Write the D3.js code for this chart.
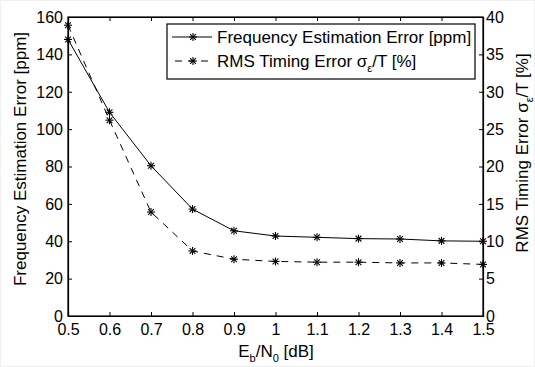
<!DOCTYPE html>
<html>
<head>
<meta charset="utf-8">
<script src="https://cdn.jsdelivr.net/npm/d3@7"></script>
<style>
  body { margin: 0; background: #fff; }
  text { font-family: "Liberation Sans", Arial, sans-serif; fill: #000; }
</style>
</head>
<body>
<svg id="chart" width="535" height="367"></svg>
<script>
// data
const ebn0 = [0.5, 0.6, 0.7, 0.8, 0.9, 1.0, 1.1, 1.2, 1.3, 1.4, 1.5];
const freqErr = [148, 109, 80.4, 57.2, 45.6, 42.8, 42.1, 41.4, 41.2, 40.2, 40.0];
const rmsErr = [38.9, 26.2, 13.9, 8.7, 7.6, 7.3, 7.2, 7.2, 7.1, 7.1, 6.9];
const xTicks = [0.5, 0.6, 0.7, 0.8, 0.9, 1, 1.1, 1.2, 1.3, 1.4, 1.5];
const yLeftTicks = [0, 20, 40, 60, 80, 100, 120, 140, 160];
const yRightTicks = [0, 5, 10, 15, 20, 25, 30, 35, 40];

const svg = d3.select("#chart");
const margin = {top: 17, right: 52, bottom: 51, left: 68};
const width = 535, height = 367;

svg.append("rect")
    .attr("x", 0.5).attr("y", 0.5)
    .attr("width", width - 1).attr("height", height - 1)
    .attr("fill", "#fff").attr("stroke", "#f0f0f0");

const x = d3.scaleLinear().domain([0.5, 1.5]).range([margin.left, width - margin.right]);
const yL = d3.scaleLinear().domain([0, 160]).range([height - margin.bottom, margin.top]);
const yR = d3.scaleLinear().domain([0, 40]).range([height - margin.bottom, margin.top]);

const tickFont = "16px";
const labelFont = "17px";

// plot frame
svg.append("rect")
    .attr("x", x(0.5)).attr("y", yL(160))
    .attr("width", x(1.5) - x(0.5)).attr("height", yL(0) - yL(160))
    .attr("fill", "none").attr("stroke", "#000").attr("stroke-width", 1.2);

// axes (inward ticks, matlab style)
const gx = svg.append("g")
    .attr("transform", `translate(0,${yL(0)})`)
    .call(d3.axisBottom(x).tickValues(xTicks).tickFormat(d3.format("")).tickSize(-4).tickPadding(9));
const gxTop = svg.append("g")
    .attr("transform", `translate(0,${yL(160)})`)
    .call(d3.axisTop(x).tickValues(xTicks).tickSize(-4).tickFormat(""));
const gyL = svg.append("g")
    .attr("transform", `translate(${x(0.5)},0)`)
    .call(d3.axisLeft(yL).tickValues(yLeftTicks).tickSize(-4).tickPadding(5));
const gyR = svg.append("g")
    .attr("transform", `translate(${x(1.5)},0)`)
    .call(d3.axisRight(yR).tickValues(yRightTicks).tickSize(-4).tickPadding(3));

[gx, gxTop, gyL, gyR].forEach(g => {
    g.select(".domain").attr("stroke", "#000").attr("stroke-width", 1.2);
    g.selectAll(".tick line").attr("stroke", "#000");
    g.selectAll("text").style("font-size", tickFont)
        .style("font-family", "'Liberation Sans', Arial, sans-serif").attr("fill", "#000");
});
gx.selectAll("text").attr("dy", "0.62em");
gyL.selectAll("text").attr("dy", "0.33em");
gyR.selectAll("text").attr("dy", "0.33em");

// asterisk marker
function star(g, cx, cy, r) {
    const s = g.append("g").attr("transform", `translate(${cx},${cy})`)
        .attr("stroke", "#000").attr("stroke-width", 1.1);
    const a = r * 0.72;
    s.append("line").attr("x1", -r).attr("x2", r).attr("y1", 0).attr("y2", 0);
    s.append("line").attr("x1", 0).attr("x2", 0).attr("y1", -r).attr("y2", r);
    s.append("line").attr("x1", -a).attr("x2", a).attr("y1", -a).attr("y2", a);
    s.append("line").attr("x1", -a).attr("x2", a).attr("y1", a).attr("y2", -a);
}

const freqData = ebn0.map((e, i) => ({x: e, y: freqErr[i]}));
const rmsData = ebn0.map((e, i) => ({x: e, y: rmsErr[i]}));

svg.append("path")
    .datum(freqData)
    .attr("fill", "none").attr("stroke", "#000").attr("stroke-width", 1)
    .attr("d", d3.line().x(d => x(d.x)).y(d => yL(d.y)));

svg.append("path")
    .datum(rmsData)
    .attr("fill", "none").attr("stroke", "#000").attr("stroke-width", 1)
    .attr("stroke-dasharray", "7,6")
    .attr("d", d3.line().x(d => x(d.x)).y(d => yR(d.y)));

const marks = svg.append("g");
freqData.forEach(d => star(marks, x(d.x), yL(d.y), 4));
rmsData.forEach(d => star(marks, x(d.x), yR(d.y), 4));

// legend
const lg = svg.append("g").attr("transform", "translate(167,24)");
lg.append("rect").attr("width", 308).attr("height", 55)
    .attr("fill", "#fff").attr("stroke", "#000").attr("stroke-width", 1.2);
lg.append("line").attr("x1", 5).attr("x2", 45).attr("y1", 13).attr("y2", 13)
    .attr("stroke", "#000");
star(lg, 26, 13, 4);
lg.append("line").attr("x1", 5).attr("x2", 45).attr("y1", 37).attr("y2", 37)
    .attr("stroke", "#000").attr("stroke-dasharray", "7,6").attr("stroke-dashoffset", -3);
star(lg, 26, 37, 4);
lg.append("text").attr("x", 50).attr("y", 19).style("font-size", labelFont)
    .text("Frequency Estimation Error [ppm]");
const t2 = lg.append("text").attr("x", 50).attr("y", 43).style("font-size", labelFont);
t2.append("tspan").text("RMS Timing Error σ");
t2.append("tspan").attr("dy", 5).style("font-size", "11px").text("ε");
t2.append("tspan").attr("dy", -5).text("/T [%]");

// axis labels
const xl = svg.append("text")
    .attr("x", 276).attr("y", 357)
    .attr("text-anchor", "middle").style("font-size", labelFont);
xl.append("tspan").text("E");
xl.append("tspan").attr("dy", 5).style("font-size", "11px").text("b");
xl.append("tspan").attr("dy", -5).text("/N");
xl.append("tspan").attr("dy", 5).style("font-size", "11px").text("0");
xl.append("tspan").attr("dy", -5).text(" [dB]");

svg.append("text")
    .attr("transform", "translate(26,159) rotate(-90)")
    .attr("text-anchor", "middle").style("font-size", labelFont)
    .text("Frequency Estimation Error [ppm]");

const yr = svg.append("text")
    .attr("transform", "translate(528,153) rotate(-90)")
    .attr("text-anchor", "middle").style("font-size", labelFont);
yr.append("tspan").text("RMS Timing Error σ");
yr.append("tspan").attr("dy", 5).style("font-size", "11px").text("ε");
yr.append("tspan").attr("dy", -5).text("/T [%]");
</script>
</body>
</html>
